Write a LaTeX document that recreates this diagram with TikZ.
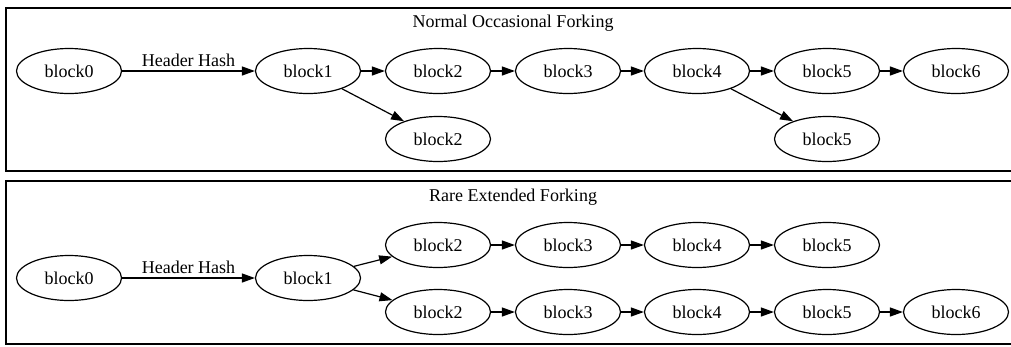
\documentclass[tikz,border=0pt]{standalone}
\usepackage{fontspec}
\setmainfont{Liberation Serif}
\usetikzlibrary{arrows.meta,shapes.geometric}
\begin{document}
\begin{tikzpicture}[x=1pt,y=-1pt,
  blk/.style={draw,ellipse,line width=1.2pt,minimum width=105pt,minimum height=45pt,inner sep=0pt,font=\fontsize{18}{20}\selectfont},
  ttl/.style={font=\fontsize{18}{20}\selectfont,inner sep=0pt},
  lnk/.style={line width=1.2pt,-{Triangle[length=13pt,width=9pt]}},
  cluster/.style={draw,line width=1.3pt}]
\useasboundingbox (0,0) rectangle (1011,346);
\begin{scope}
\clip (0,0) rectangle (1011,346);
\draw[cluster] (6,8) rectangle (1020,171);
\draw[cluster] (6,181) rectangle (1020,344);
\end{scope}
% top cluster
\node[ttl] (t1) at (513,23) {Normal Occasional Forking};
\node[blk] (a0) at (69,71) {block0};
\node[blk] (a1) at (308,71) {block1};
\node[blk] (a2) at (438,71) {block2};
\node[blk] (a3) at (568,71) {block3};
\node[blk] (a4) at (697,71) {block4};
\node[blk] (a5) at (827,71) {block5};
\node[blk] (a6) at (956,71) {block6};
\node[blk] (b2) at (438,139) {block2};
\node[blk] (b5) at (827,139) {block5};
\draw[lnk] (a0) -- node[ttl,above=4pt] (h1) {Header Hash} (a1);
\draw[lnk] (a1) -- (a2);
\draw[lnk] (a2) -- (a3);
\draw[lnk] (a3) -- (a4);
\draw[lnk] (a4) -- (a5);
\draw[lnk] (a5) -- (a6);
\draw[lnk] (a1) -- (b2);
\draw[lnk] (a4) -- (b5);
% bottom cluster
\node[ttl] (t2) at (513,197) {Rare Extended Forking};
\node[blk] (c0) at (69,278) {block0};
\node[blk] (c1) at (308,278) {block1};
\node[blk] (d2) at (438,245) {block2};
\node[blk] (d3) at (568,245) {block3};
\node[blk] (d4) at (697,245) {block4};
\node[blk] (d5) at (827,245) {block5};
\node[blk] (e2) at (438,312) {block2};
\node[blk] (e3) at (568,312) {block3};
\node[blk] (e4) at (697,312) {block4};
\node[blk] (e5) at (827,312) {block5};
\node[blk] (e6) at (956,312) {block6};
\draw[lnk] (c0) -- node[ttl,above=4pt] (h2) {Header Hash} (c1);
\draw[lnk] (c1) -- (d2);
\draw[lnk] (c1) -- (e2);
\draw[lnk] (d2) -- (d3);
\draw[lnk] (d3) -- (d4);
\draw[lnk] (d4) -- (d5);
\draw[lnk] (e2) -- (e3);
\draw[lnk] (e3) -- (e4);
\draw[lnk] (e4) -- (e5);
\draw[lnk] (e5) -- (e6);
\end{tikzpicture}
\end{document}
